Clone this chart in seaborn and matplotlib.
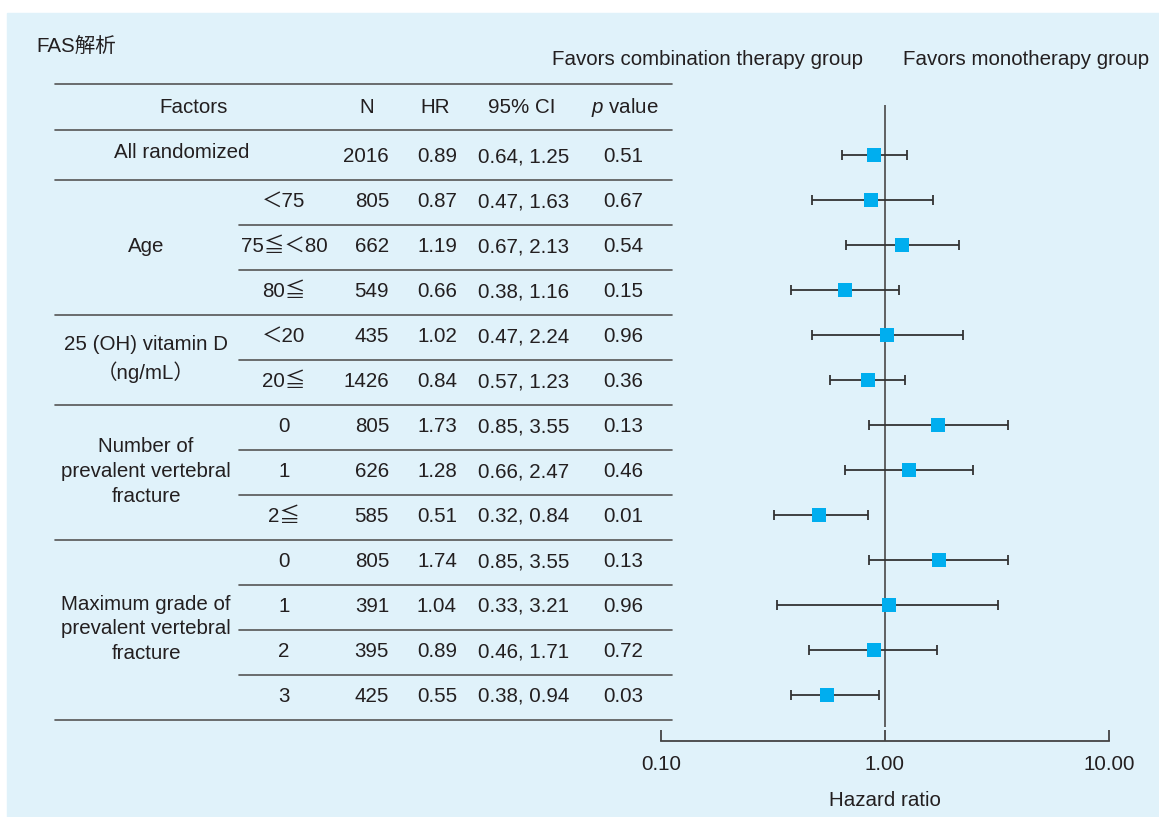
import matplotlib
matplotlib.use("Agg")
import matplotlib.pyplot as plt
from matplotlib.patches import Rectangle
import seaborn as sns
import numpy as np

# data
groups = ["All randomized", "Age", "25 (OH) vitamin D\n（ng/mL）",
          "Number of\nprevalent vertebral\nfracture",
          "Maximum grade of\nprevalent vertebral\nfracture"]
group_sizes = [1, 3, 2, 3, 4]
subgroups = ["", "＜75", "75≦＜80", "80≦", "＜20", "20≦", "0", "1", "2≦", "0", "1", "2", "3"]
n = [2016, 805, 662, 549, 435, 1426, 805, 626, 585, 805, 391, 395, 425]
hr = [0.89, 0.87, 1.19, 0.66, 1.02, 0.84, 1.73, 1.28, 0.51, 1.74, 1.04, 0.89, 0.55]
ci_low = [0.64, 0.47, 0.67, 0.38, 0.47, 0.57, 0.85, 0.66, 0.32, 0.85, 0.33, 0.46, 0.38]
ci_high = [1.25, 1.63, 2.13, 1.16, 2.24, 1.23, 3.55, 2.47, 0.84, 3.55, 3.21, 1.71, 0.94]
p_values = ["0.51", "0.67", "0.54", "0.15", "0.96", "0.36", "0.13", "0.46", "0.01",
            "0.13", "0.96", "0.72", "0.03"]
x_ticks = [0.1, 1, 10]
x_tick_labels = ["0.10", "1.00", "10.00"]

sns.set_style("white")
plt.rcParams['font.family'] = ['Liberation Sans', 'Noto Sans CJK JP', 'DejaVu Sans']
plt.rcParams['mathtext.fontset'] = 'custom'
plt.rcParams['mathtext.it'] = 'Liberation Sans:italic'
plt.rcParams['mathtext.rm'] = 'Liberation Sans'

W, H = 1159, 817
txt = '#231f20'
linec = '#555555'
fs = 14.8

fig = plt.figure(figsize=(W / 100, H / 100), dpi=100)
fig.patch.set_facecolor('white')

# background / table axes in pixel coordinates
bg = fig.add_axes([0, 0, 1, 1], zorder=0)
bg.set_xlim(0, W)
bg.set_ylim(H, 0)
bg.axis('off')
bg.add_patch(Rectangle((7, 13), W - 7, H - 13, color='#e0f2fa', zorder=0))

bg.text(36, 46, "FAS解析", fontsize=fs, color=txt, va='center', ha='left')
bg.text(707, 59, "Favors combination therapy group", fontsize=fs, color=txt, ha='center', va='center')
bg.text(1026, 59, "Favors monotherapy group", fontsize=fs, color=txt, ha='center', va='center')

# header
hy = 107
bg.text(194, hy, "Factors", fontsize=fs, color=txt, ha='center', va='center')
bg.text(367, hy, "N", fontsize=fs, color=txt, ha='center', va='center')
bg.text(435, hy, "HR", fontsize=fs, color=txt, ha='center', va='center')
bg.text(522, hy, "95% CI", fontsize=fs, color=txt, ha='center', va='center')
bg.text(625, hy, "$p$ value", fontsize=fs, color=txt, ha='center', va='center')

row0 = 156.5
step = 45
x_left, x_sub, x_right = 55, 239, 672
bg.plot([x_left, x_right], [84, 84], color=linec, lw=1.2)
bg.plot([x_left, x_right], [130, 130], color=linec, lw=1.2)

for i in range(len(n)):
    y = row0 + step * i
    bg.text(284, y, subgroups[i], fontsize=fs, color=txt, ha='center', va='center')
    bg.text(389, y, str(n[i]), fontsize=fs, color=txt, ha='right', va='center')
    bg.text(437, y, f"{hr[i]:.2f}", fontsize=fs, color=txt, ha='center', va='center')
    bg.text(524, y, f"{ci_low[i]:.2f}, {ci_high[i]:.2f}", fontsize=fs, color=txt, ha='center', va='center')
    bg.text(623, y, p_values[i], fontsize=fs, color=txt, ha='center', va='center')

start = 0
for g, size in zip(groups, group_sizes):
    y_mid = row0 + step * (start + (size - 1) / 2)
    if size == 1:
        bg.text(182, y_mid - 4, g, fontsize=fs, color=txt, ha='center', va='center')
    else:
        bg.text(146, y_mid, g, fontsize=fs, color=txt, ha='center', va='center',
                linespacing=1.38)
    for k in range(1, size):
        yl = 134.5 + step * (start + k)
        bg.plot([x_sub, x_right], [yl, yl], color=linec, lw=1.2)
    start += size
    yl = 134.5 + step * start
    bg.plot([x_left, x_right], [yl, yl], color=linec, lw=1.2)

# forest plot axes
def box(x0, y0, x1, y1):
    return [x0 / W, 1 - y1 / H, (x1 - x0) / W, (y1 - y0) / H]

ax = fig.add_axes(box(661, 84, 1109, 741), zorder=1)
ax.patch.set_alpha(0)
rows = np.arange(len(hr))
hr_a = np.array(hr)
lo_a = np.array(ci_low)
hi_a = np.array(ci_high)

ax.set_xscale('log')
ax.set_xlim(0.1, 10)
ax.set_ylim(13.02, -1.578)

ax.vlines(1, -1.11, 12.71, color='#555555', lw=1.3, zorder=1)
ax.errorbar(hr_a, rows, xerr=[hr_a - lo_a, hi_a - hr_a], fmt='none',
            ecolor='#333333', elinewidth=1.3, capsize=3.6, capthick=1.3, zorder=2)
sns.scatterplot(x=hr_a, y=rows, marker='s', s=105, color='#00aeef',
                linewidth=0, ax=ax, zorder=3, legend=False)

for side in ['top', 'left', 'right']:
    ax.spines[side].set_visible(False)
ax.spines['bottom'].set_color('#444444')
ax.spines['bottom'].set_linewidth(1.3)
ax.set_xticks(x_ticks)
ax.set_xticklabels(x_tick_labels)
ax.xaxis.set_minor_locator(matplotlib.ticker.NullLocator())
ax.set_yticks([])
ax.tick_params(axis='x', which='major', bottom=True, direction='in', length=8,
               width=1.3, color='#444444', pad=10, labelsize=fs, labelcolor=txt)
ax.set_xlabel("Hazard ratio", fontsize=fs, color=txt, labelpad=12)
ax.set_ylabel("")

fig.savefig("out.png", dpi=100)
